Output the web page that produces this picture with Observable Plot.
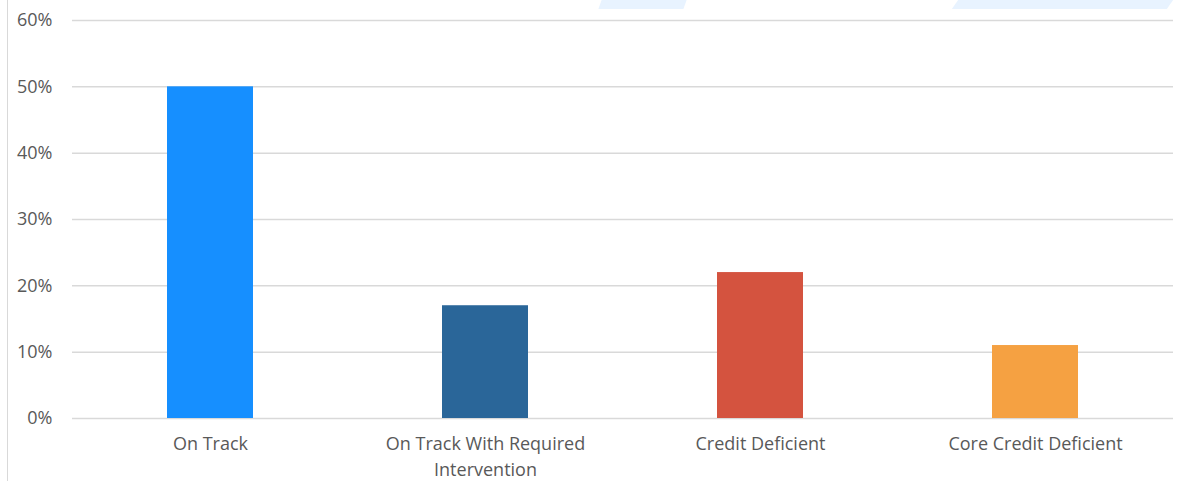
<!DOCTYPE html>
<html>
<head>
<meta charset="utf-8">
<script src="https://cdn.jsdelivr.net/npm/d3@7"></script>
<script src="https://cdn.jsdelivr.net/npm/@observablehq/plot@0.6"></script>
<style>
  html, body { margin: 0; padding: 0; background: #ffffff; }
  #wrap { position: relative; width: 1181px; height: 481px; overflow: hidden; }
  #vline { position: absolute; left: 7px; top: 0; width: 1px; height: 481px; background: #d9d9d9; }
  .wm { position: absolute; background: #e8f3ff; }
</style>
</head>
<body>
<div id="wrap">
  <div class="wm" style="left:600px;top:0;width:85px;height:9px;transform:skewX(-20deg);"></div>
  <div class="wm" style="left:955px;top:0;width:215px;height:9px;transform:skewX(-35deg);"></div>
  <div id="vline"></div>
  <div id="chart"></div>
</div>
<script>
const categories = ["On Track", "On Track With Required Intervention", "Credit Deficient", "Core Credit Deficient"];
const values = [50, 17, 22, 11];
const colors = ["#168fff", "#2a6699", "#d4533f", "#f5a142"];
const yTicks = [0, 10, 20, 30, 40, 50, 60];
const xLabels = ["On Track", "On Track With Required\nIntervention", "Credit Deficient", "Core Credit Deficient"];

const data = categories.map((c, i) => ({category: c, value: values[i], color: colors[i]}));

const chart = Plot.plot({
  width: 1181,
  height: 481,
  marginLeft: 72,
  marginRight: 8,
  marginTop: 20,
  marginBottom: 63,
  style: {fontFamily: "'Open Sans', sans-serif", fontSize: "18px", color: "#595959", background: "transparent"},
  x: {domain: categories, paddingInner: 0.687, paddingOuter: 0.3435, label: null},
  y: {domain: [0, 60], label: null},
  marks: [
    Plot.gridY(yTicks, {stroke: "#d9d9d9", strokeOpacity: 1, strokeWidth: 1.5}),
    Plot.barY(data, {x: "category", y: "value", fill: "color"}),
    Plot.axisY({ticks: yTicks, tickSize: 0, tickPadding: 20, tickFormat: d => d + "%", label: null, fill: "#595959"}),
    Plot.axisX({tickSize: 0, tickPadding: 14, tickFormat: (d) => xLabels[categories.indexOf(d)], label: null, fill: "#595959", lineHeight: 1.4})
  ]
});
document.getElementById("chart").appendChild(chart);
</script>
</body>
</html>
